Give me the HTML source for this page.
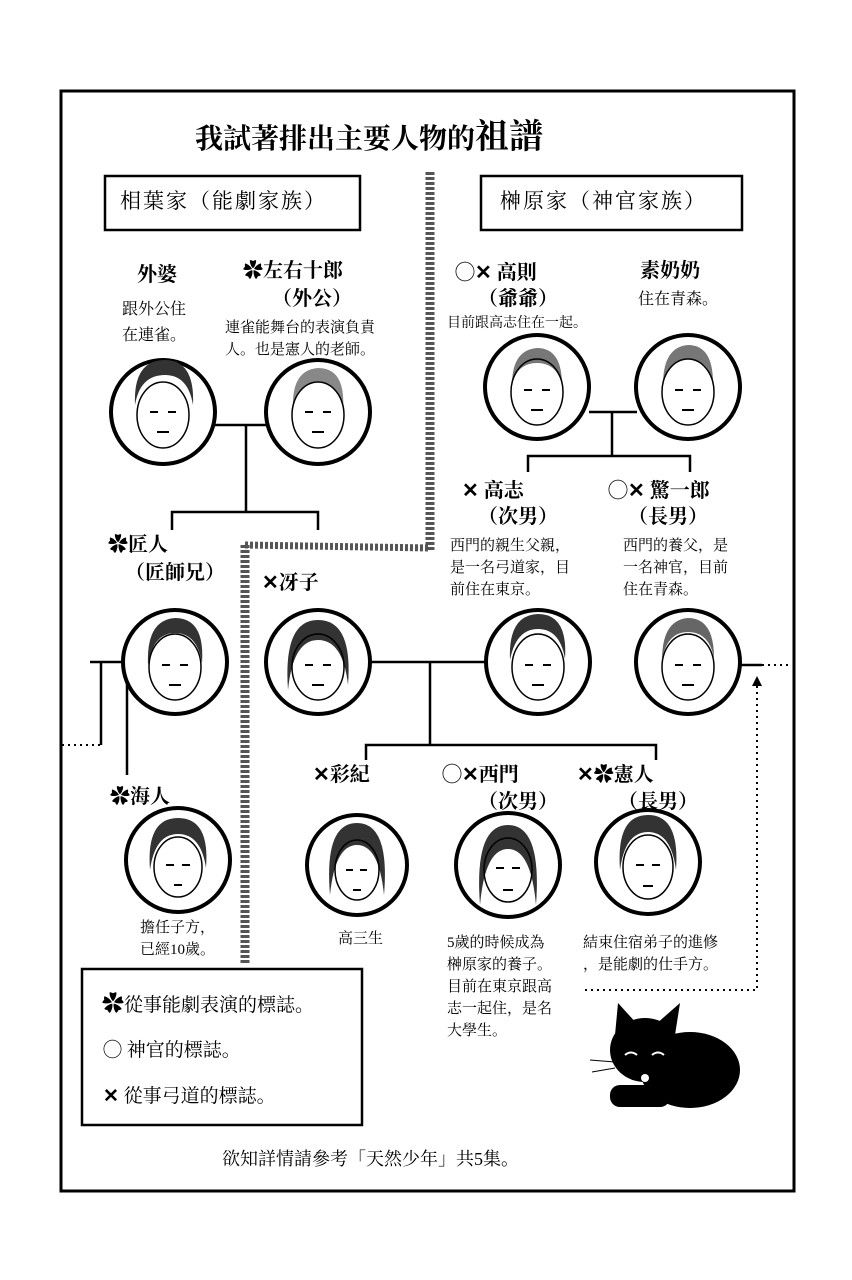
<!DOCTYPE html>
<html><head><meta charset="utf-8"><style>
html,body{margin:0;padding:0;background:#fff}
body{width:852px;height:1280px;position:relative;overflow:hidden;font-family:"Liberation Serif","Noto Serif CJK SC","Noto Sans CJK TC",serif;color:#000}
.t{position:absolute;white-space:nowrap;line-height:1.3}
.s{font-family:"Noto Sans CJK SC",sans-serif;font-weight:bold}
svg{position:absolute;left:0;top:0}
</style></head><body>
<svg width="852" height="1280" viewBox="0 0 852 1280">
<rect x="61" y="91" width="733" height="1100" fill="none" stroke="#000" stroke-width="3"/>
<rect x="105" y="176" width="255" height="54" fill="none" stroke="#000" stroke-width="2.5"/>
<rect x="481" y="176" width="261" height="54" fill="none" stroke="#000" stroke-width="2.5"/>
<line x1="430" y1="172" x2="430" y2="550" stroke="#555" stroke-width="9" stroke-dasharray="3 2"/>
<line x1="245" y1="545" x2="430" y2="548" stroke="#555" stroke-width="7" stroke-dasharray="3 2"/>
<line x1="245" y1="545" x2="245" y2="965" stroke="#555" stroke-width="9" stroke-dasharray="3 2"/>
<g stroke="#000" stroke-width="2.5" fill="none">
<line x1="215" y1="425" x2="266" y2="425"/>
<line x1="246" y1="425" x2="246" y2="512"/>
<polyline points="172,530 172,512 318,512 318,530"/>
<line x1="589" y1="412" x2="637" y2="412"/>
<line x1="612" y1="412" x2="612" y2="456"/>
<polyline points="528,472 528,456 690,456 690,472"/>
<line x1="370" y1="662" x2="487" y2="662"/>
<line x1="430" y1="662" x2="430" y2="745"/>
<polyline points="366,760 366,745 656,745 656,760"/>
<line x1="90" y1="662" x2="124" y2="662"/>
<line x1="101" y1="662" x2="101" y2="745"/>
<line x1="127" y1="680" x2="127" y2="775"/>
<line x1="740" y1="665" x2="762" y2="665"/>
</g>
<g stroke="#000" stroke-width="2" fill="none" stroke-dasharray="2 4">
<line x1="62" y1="745" x2="101" y2="745"/>
<line x1="762" y1="665" x2="792" y2="665"/>
<line x1="757" y1="680" x2="757" y2="990"/>
<line x1="585" y1="990" x2="757" y2="990"/>
</g>
<polygon points="757,676 752,686 762,686" fill="#000"/>
<g stroke="#000" stroke-width="4" fill="#fff">
<circle cx="163" cy="412" r="52"/><circle cx="318" cy="412" r="52"/>
<circle cx="537" cy="387" r="52"/><circle cx="688" cy="387" r="52"/>
<circle cx="175" cy="662" r="52"/><circle cx="318" cy="662" r="52"/>
<circle cx="538" cy="662" r="52"/><circle cx="688" cy="662" r="52"/>
<circle cx="178" cy="860" r="52"/><circle cx="357" cy="865" r="50"/>
<circle cx="508" cy="865" r="52"/><circle cx="648" cy="862" r="52"/>
</g>
<g fill="#333">
<path d="M135,405 q-2,-45 30,-45 q30,0 28,45 q-5,-30 -28,-30 q-25,0 -30,30z"/>
<path d="M293,410 q-2,-40 25,-42 q28,0 25,42 q-5,-28 -25,-28 q-20,0 -25,28z" fill="#888"/>
<path d="M512,385 q0,-35 25,-37 q25,0 25,37 q-5,-22 -25,-22 q-20,0 -25,22z" fill="#777"/>
<path d="M663,385 q0,-38 25,-40 q25,0 25,38 q-5,-24 -25,-24 q-20,0 -25,26z" fill="#777"/>
<path d="M148,665 q-2,-45 27,-47 q30,0 27,45 q-5,-30 -27,-30 q-22,0 -27,32z"/>
<path d="M288,690 q-5,-70 30,-70 q35,0 30,65 q-5,-45 -30,-45 q-25,0 -30,50z"/>
<path d="M510,660 q-2,-45 28,-46 q30,0 27,45 q-5,-30 -27,-30 q-22,0 -28,31z"/>
<path d="M662,660 q0,-40 26,-42 q26,0 26,40 q-5,-26 -26,-26 q-21,0 -26,28z" fill="#666"/>
<path d="M150,870 q-4,-52 28,-52 q32,0 28,50 q-5,-34 -28,-34 q-23,0 -28,36z"/>
<path d="M330,895 q-6,-72 27,-72 q33,0 27,72 q-5,-50 -27,-50 q-22,0 -27,50z"/>
<path d="M480,905 q-6,-80 28,-80 q34,0 28,80 q-5,-56 -28,-56 q-23,0 -28,56z"/>
<path d="M620,870 q-4,-55 28,-55 q32,0 28,55 q-5,-38 -28,-38 q-23,0 -28,38z"/>
</g>
<g stroke="#000" stroke-width="1.5" fill="none">
<ellipse cx="163" cy="415" rx="26" ry="33"/><ellipse cx="318" cy="415" rx="26" ry="33"/>
<ellipse cx="537" cy="392" rx="26" ry="33"/><ellipse cx="688" cy="392" rx="26" ry="33"/>
<ellipse cx="175" cy="667" rx="26" ry="33"/><ellipse cx="318" cy="667" rx="26" ry="33"/>
<ellipse cx="538" cy="667" rx="26" ry="33"/><ellipse cx="688" cy="667" rx="26" ry="33"/>
<ellipse cx="178" cy="867" rx="24" ry="30"/><ellipse cx="357" cy="870" rx="22" ry="30"/>
<ellipse cx="508" cy="870" rx="24" ry="32"/><ellipse cx="648" cy="867" rx="25" ry="32"/>
</g>
<g stroke="#000" stroke-width="2" fill="none">
<path d="M150,412h8M168,412h8M305,412h8M323,412h8M524,390h8M542,390h8M675,390h8M693,390h8M162,665h8M180,665h8M305,665h8M323,665h8M525,665h8M543,665h8M675,665h8M693,665h8M166,865h8M182,865h8M346,870h7M360,870h7M496,868h8M512,868h8M636,865h8M652,865h8"/>
<path d="M157,432h12M312,432h12M531,410h12M682,410h12M169,685h12M312,685h12M532,685h12M682,685h12M174,885h8M353,890h8M503,890h10M643,886h10"/>
</g>
<g fill="#000">
<ellipse cx="690" cy="1070" rx="50" ry="38"/>
<ellipse cx="645" cy="1050" rx="35" ry="32"/>
<polygon points="615,1035 618,1003 638,1025"/><polygon points="675,1035 680,1003 655,1025"/>
<rect x="610" y="1085" width="60" height="22" rx="10"/>
</g>
<g stroke="#000" stroke-width="1"><line x1="590" y1="1060" x2="615" y2="1062"/><line x1="592" y1="1072" x2="615" y2="1068"/><line x1="678" y1="1060" x2="700" y2="1056"/><line x1="678" y1="1066" x2="702" y2="1068"/></g>
<circle cx="645" cy="1078" r="4" fill="#fff"/>
<path d="M625,1055 q6,-5 12,0 M652,1055 q6,-5 12,0" stroke="#fff" stroke-width="2" fill="none"/>
<rect x="82" y="969" width="280" height="156" fill="none" stroke="#000" stroke-width="2.5"/>
</svg>
<div class="t" style="left:195px;top:116px;font-size:28px;font-weight:bold">我試著排出主要人物的<span style="font-size:34px">祖譜</span></div>
<div class="t" style="left:120px;top:188px;font-size:21px;letter-spacing:2px">相葉家（能劇家族）</div>
<div class="t" style="left:500px;top:188px;font-size:21px;letter-spacing:2px">榊原家（神官家族）</div>

<div class="t" style="left:137px;top:262px;font-size:20px;font-weight:bold">外婆</div>
<div class="t" style="left:122px;top:297px;font-size:16px;line-height:26px">跟外公住<br>在連雀。</div>
<div class="t" style="left:243px;top:258px;font-size:20px;font-weight:bold">✿左右十郎</div>
<div class="t" style="left:272px;top:286px;font-size:20px;font-weight:bold">（外公）</div>
<div class="t" style="left:225px;top:317px;font-size:15px;line-height:22px">連雀能舞台的表演負責<br>人。也是憲人的老師。</div>

<div class="t" style="left:455px;top:258px;font-size:20px;font-weight:bold"><span class="s">◯✕</span> 高則</div>
<div class="t" style="left:478px;top:286px;font-size:20px;font-weight:bold">（爺爺）</div>
<div class="t" style="left:447px;top:315px;font-size:14px">目前跟高志住在一起。</div>
<div class="t" style="left:640px;top:258px;font-size:20px;font-weight:bold">素奶奶</div>
<div class="t" style="left:638px;top:290px;font-size:16px">住在青森。</div>

<div class="t" style="left:462px;top:476px;font-size:20px;font-weight:bold"><span class="s">✕</span> 高志</div>
<div class="t" style="left:478px;top:504px;font-size:20px;font-weight:bold">（次男）</div>
<div class="t" style="left:450px;top:535px;font-size:15px;line-height:22px">西門的親生父親，<br>是一名弓道家，目<br>前住在東京。</div>
<div class="t" style="left:608px;top:476px;font-size:20px;font-weight:bold"><span class="s">◯✕</span> 驚一郎</div>
<div class="t" style="left:628px;top:504px;font-size:20px;font-weight:bold">（長男）</div>
<div class="t" style="left:623px;top:535px;font-size:15px;line-height:22px">西門的養父，是<br>一名神官，目前<br>住在青森。</div>

<div class="t" style="left:108px;top:532px;font-size:20px;font-weight:bold">✿匠人</div>
<div class="t" style="left:125px;top:560px;font-size:20px;font-weight:bold">（匠師兄）</div>
<div class="t" style="left:262px;top:568px;font-size:20px;font-weight:bold"><span class="s">✕</span>冴子</div>

<div class="t" style="left:313px;top:760px;font-size:20px;font-weight:bold"><span class="s">✕</span>彩紀</div>
<div class="t" style="left:442px;top:760px;font-size:20px;font-weight:bold"><span class="s">◯✕</span>西門</div>
<div class="t" style="left:478px;top:789px;font-size:20px;font-weight:bold">（次男）</div>
<div class="t" style="left:577px;top:760px;font-size:20px;font-weight:bold"><span class="s">✕</span>✿憲人</div>
<div class="t" style="left:618px;top:789px;font-size:20px;font-weight:bold">（長男）</div>
<div class="t" style="left:110px;top:784px;font-size:20px;font-weight:bold">✿海人</div>

<div class="t" style="left:140px;top:917px;font-size:15px;line-height:22px">擔任子方，<br>已經10歲。</div>
<div class="t" style="left:338px;top:930px;font-size:15px">高三生</div>
<div class="t" style="left:447px;top:932px;font-size:15px;line-height:22px">5歲的時候成為<br>榊原家的養子。<br>目前在東京跟高<br>志一起住，是名<br>大學生。</div>
<div class="t" style="left:583px;top:932px;font-size:15px;line-height:22px">結束住宿弟子的進修<br>，是能劇的仕手方。</div>

<div class="t" style="left:102px;top:990px;font-size:19px"><b style="font-size:22px">✿</b>從事能劇表演的標誌。</div>
<div class="t" style="left:103px;top:1037px;font-size:19px"><span class="s">◯</span> 神官的標誌。</div>
<div class="t" style="left:103px;top:1083px;font-size:19px"><span class="s">✕</span> 從事弓道的標誌。</div>
<div class="t" style="left:222px;top:1148px;font-size:18px">欲知詳情請參考「天然少年」共5集。</div>
</body></html>
